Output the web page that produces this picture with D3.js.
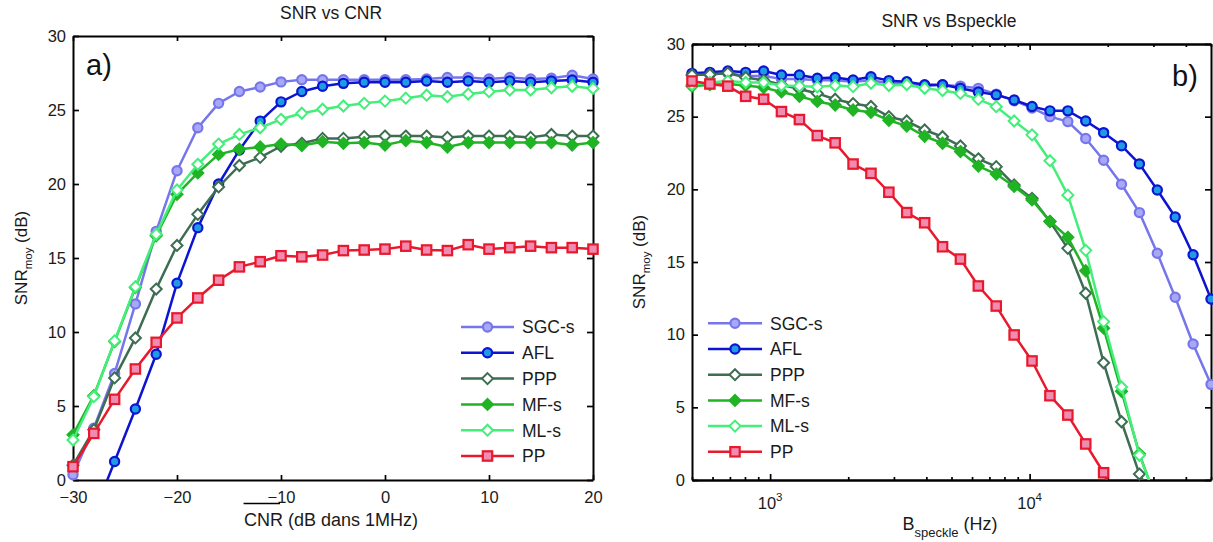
<!DOCTYPE html>
<html><head><meta charset="utf-8">
<script src="https://cdn.jsdelivr.net/npm/d3@7"></script>
<style>
html,body{margin:0;padding:0;background:#fff;}
svg{display:block;font-family:"Liberation Sans",Arial,Helvetica,sans-serif;}
</style></head><body>
<svg id="chart" width="1213" height="542"></svg>
<script>
// ---------- DATA ----------
const seriesNames = ["SGC-s", "AFL", "PPP", "MF-s", "ML-s", "PP"];

// Panel a) : SNR vs CNR
const cnr = [-30, -28, -26, -24, -22, -20, -18, -16, -14, -12, -10, -8, -6, -4, -2, 0, 2, 4, 6, 8, 10, 12, 14, 16, 18, 20];
const snrA_SGC = [0.35, 3.5, 7.2, 11.9, 16.8, 20.9, 23.8, 25.45, 26.25, 26.55, 26.9, 27.05, 27.05, 27.05, 27.05, 27.05, 27.05, 27.1, 27.2, 27.2, 27.1, 27.2, 27.1, 27.15, 27.35, 27.1];
const snrA_AFL = [-5.9, -2.3, 1.25, 4.8, 8.5, 13.3, 17.05, 20.0, 22.3, 24.25, 25.55, 26.25, 26.6, 26.8, 26.87, 26.87, 26.87, 26.96, 26.87, 26.96, 26.87, 26.96, 26.87, 26.96, 27.03, 26.87];
const snrA_PPP = [1.0, 3.4, 6.9, 9.6, 12.9, 15.85, 17.95, 19.8, 21.25, 21.8, 22.55, 22.75, 23.08, 23.08, 23.2, 23.24, 23.24, 23.24, 23.15, 23.24, 23.24, 23.24, 23.15, 23.35, 23.24, 23.24];
const snrA_MF  = [3.05, 5.7, 9.35, 13.0, 16.5, 19.3, 20.75, 22.0, 22.35, 22.5, 22.7, 22.6, 22.86, 22.75, 22.8, 22.63, 22.93, 22.8, 22.5, 22.8, 22.8, 22.8, 22.8, 22.8, 22.63, 22.8];
const snrA_ML  = [2.7, 5.63, 9.4, 13.06, 16.6, 19.6, 21.33, 22.7, 23.35, 23.8, 24.37, 24.78, 25.05, 25.27, 25.45, 25.6, 25.8, 26.0, 25.9, 26.08, 26.24, 26.35, 26.35, 26.5, 26.6, 26.46];
const snrA_PP  = [0.9, 3.15, 5.45, 7.5, 9.3, 10.95, 12.3, 13.5, 14.4, 14.75, 15.15, 15.08, 15.2, 15.5, 15.54, 15.6, 15.8, 15.54, 15.5, 15.9, 15.6, 15.7, 15.8, 15.7, 15.7, 15.6];

// Panel b) : SNR vs Bspeckle (Hz)
const bspeckle = [500, 586, 687, 805, 944, 1106, 1297, 1520, 1781, 2088, 2447, 2868, 3362, 3940, 4618, 5413, 6345, 7437, 8717, 10217, 11975, 14036, 16452, 19283, 22601, 26491, 31050, 36394, 42658, 50000];
const snrB_SGC = [27.9, 27.9, 28.0, 27.8, 27.8, 27.6, 27.6, 27.5, 27.5, 27.4, 27.5, 27.3, 27.3, 27.1, 27.2, 27.1, 26.95, 26.55, 26.1, 25.6, 25.0, 24.66, 23.5, 22.0, 20.35, 18.4, 15.6, 12.57, 9.36, 6.58];
const snrB_AFL = [27.98, 28.05, 28.14, 28.05, 28.14, 27.87, 27.87, 27.64, 27.7, 27.52, 27.75, 27.48, 27.4, 27.2, 27.2, 26.95, 26.7, 26.5, 26.15, 25.7, 25.4, 25.4, 24.7, 23.9, 23.0, 21.75, 19.95, 18.1, 15.5, 12.45];
const snrB_PPP = [27.87, 27.9, 28.0, 27.7, 27.5, 27.2, 26.9, 26.6, 26.2, 25.9, 25.7, 25.0, 24.7, 24.08, 23.62, 22.98, 22.1, 21.56, 20.3, 19.38, 17.78, 15.94, 12.85, 8.07, 4.01, 0.41, -1.8];
const snrB_MF  = [27.1, 27.2, 27.25, 27.15, 27.0, 26.7, 26.4, 26.05, 25.8, 25.46, 25.3, 24.75, 24.35, 23.65, 23.17, 22.6, 21.6, 21.05, 20.2, 19.27, 17.8, 16.7, 14.4, 10.45, 6.1, 1.8, -1.6];
const snrB_ML  = [27.2, 27.35, 27.45, 27.35, 27.35, 27.14, 27.1, 27.05, 27.14, 27.07, 27.3, 27.14, 27.2, 26.95, 26.8, 26.6, 26.19, 25.69, 24.7, 23.75, 21.97, 19.6, 15.8, 10.9, 6.4, 1.7, -1.5];
const snrB_PP  = [27.45, 27.25, 27.1, 26.4, 26.2, 25.35, 24.8, 23.7, 23.2, 21.74, 21.1, 19.8, 18.4, 17.7, 16.05, 15.2, 13.35, 11.97, 9.98, 8.19, 5.8, 4.47, 2.48, 0.5, -2.5];

const yTicks = [0, 5, 10, 15, 20, 25, 30];
const xTicksA = [-30, -20, -10, 0, 10, 20];
const xTicksB = [1000, 10000];

// ---------- STYLE ----------
const styles = {
  "SGC-s": {stroke: "#7676ec", fill: "#a8a8f6", shape: "circle"},
  "AFL":   {stroke: "#0c14d2", fill: "#1f9ae4", shape: "circle"},
  "PPP":   {stroke: "#3d6d52", fill: "#ffffff", shape: "diamond"},
  "MF-s":  {stroke: "#20b424", fill: "#20b424", shape: "diamond"},
  "ML-s":  {stroke: "#44ee7a", fill: "#ffffff", shape: "diamond"},
  "PP":    {stroke: "#e8192c", fill: "#f08cb2", shape: "square"}
};
const TXT = "#1a1a1a";

const svg = d3.select("#chart");

function marker(g, shape, cx, cy, st) {
  if (shape === "circle") {
    g.append("circle").attr("cx", cx).attr("cy", cy).attr("r", 4.6)
      .attr("fill", st.fill).attr("stroke", st.stroke).attr("stroke-width", 2.2);
  } else if (shape === "square") {
    g.append("rect").attr("x", cx - 4.7).attr("y", cy - 4.7).attr("width", 9.4).attr("height", 9.4)
      .attr("fill", st.fill).attr("stroke", st.stroke).attr("stroke-width", 2.2);
  } else {
    const r = 5.5;
    g.append("path").attr("d", `M${cx},${cy - r}L${cx + r},${cy}L${cx},${cy + r}L${cx - r},${cy}Z`)
      .attr("fill", st.fill).attr("stroke", st.stroke).attr("stroke-width", 2);
  }
}

function drawPanel(cfg) {
  const {x, y, xs, series, id} = cfg;
  const [x0, x1] = x.range();
  const [yb, yt] = y.range();
  const g = svg.append("g");

  svg.append("clipPath").attr("id", id).append("rect")
    .attr("x", x0).attr("y", yt).attr("width", x1 - x0).attr("height", yb - yt);

  const axStyle = sel => {
    sel.select(".domain").attr("stroke", "#000").attr("stroke-width", 2);
    sel.selectAll(".tick line").attr("stroke", "#000").attr("stroke-width", 1.7);
    sel.selectAll("text").attr("fill", TXT).attr("font-size", 16.5)
      .attr("font-family", '"Liberation Sans",Arial,sans-serif');
  };
  g.append("g").attr("transform", `translate(${x0},0)`)
    .call(d3.axisLeft(y).tickValues(yTicks).tickSizeInner(-6).tickSizeOuter(0).tickPadding(7)).call(axStyle);
  g.append("g").attr("transform", `translate(${x1},0)`)
    .call(d3.axisRight(y).tickValues(yTicks).tickSizeInner(-6).tickSizeOuter(0).tickFormat("")).call(axStyle);
  cfg.xAxes(g, axStyle, yb, yt);

  const data = g.append("g");
  series.forEach(s => {
    const st = styles[s.name];
    const line = d3.line()
      .defined(d => d.v != null)
      .x(d => x(d.x)).y(d => y(d.v));
    const pts = s.values.map((v, i) => ({x: xs[i], v}));
    data.append("path").datum(pts).attr("d", line)
      .attr("clip-path", `url(#${id})`)
      .attr("fill", "none").attr("stroke", st.stroke).attr("stroke-width", 2.5)
      .attr("stroke-linejoin", "round");
    const mg = data.append("g");
    const [d0, d1] = y.domain();
    pts.forEach(p => {
      if (p.v >= d0 && p.v <= d1) marker(mg, st.shape, x(p.x), y(p.v), st);
    });
  });
  return g;
}

function legend(lx0, lx1, tx, y0, dy) {
  const g = svg.append("g");
  seriesNames.forEach((n, i) => {
    const st = styles[n];
    const yy = y0 + i * dy;
    g.append("line").attr("x1", lx0).attr("x2", lx1).attr("y1", yy).attr("y2", yy)
      .attr("stroke", st.stroke).attr("stroke-width", 2.5);
    marker(g, st.shape, (lx0 + lx1) / 2, yy, st);
    g.append("text").attr("x", tx).attr("y", yy).attr("dy", "0.36em")
      .attr("font-size", 17.5).attr("fill", TXT).text(n);
  });
}

function yLabel(cx, cy) {
  const t = svg.append("text").attr("transform", `translate(${cx},${cy}) rotate(-90)`)
    .attr("text-anchor", "middle").attr("font-size", 17).attr("fill", TXT);
  t.append("tspan").text("SNR");
  t.append("tspan").attr("font-size", 11.5).attr("dy", 5).text("moy");
  t.append("tspan").attr("dy", -5).text(" (dB)");
}

// ---------- PANEL A ----------
const xA = d3.scaleLinear().domain([-30, 20]).range([73, 593]);
const yA = d3.scaleLinear().domain([0, 30]).range([480, 36]);
drawPanel({
  id: "clipA", x: xA, y: yA, xs: cnr,
  series: [
    {name: "SGC-s", values: snrA_SGC}, {name: "AFL", values: snrA_AFL},
    {name: "PPP", values: snrA_PPP}, {name: "MF-s", values: snrA_MF},
    {name: "ML-s", values: snrA_ML}, {name: "PP", values: snrA_PP}],
  xAxes: (g, axStyle, yb, yt) => {
    g.append("g").attr("transform", `translate(0,${yb})`)
      .call(d3.axisBottom(xA).tickValues(xTicksA).tickSizeInner(-5).tickSizeOuter(0).tickPadding(11.5)).call(axStyle);
    g.append("g").attr("transform", `translate(0,${yt})`)
      .call(d3.axisTop(xA).tickValues(xTicksA).tickSizeInner(-5).tickSizeOuter(0).tickFormat("")).call(axStyle);
  }
});
// small stray bar under the "-10" label (present in the original figure)
svg.append("line").attr("x1", xA(-13.6)).attr("x2", xA(-10.1)).attr("y1", 503.5).attr("y2", 503.5)
  .attr("stroke", "#000").attr("stroke-width", 1.4);

svg.append("text").attr("x", 331).attr("y", 19).attr("text-anchor", "middle")
  .attr("font-size", 17.5).attr("fill", TXT).text("SNR vs CNR");
svg.append("text").attr("x", 331).attr("y", 526).attr("text-anchor", "middle")
  .attr("font-size", 18).attr("fill", TXT).text("CNR (dB dans 1MHz)");
svg.append("text").attr("x", 86).attr("y", 75).attr("font-size", 29).attr("fill", "#111").text("a)");
yLabel(27, 258);
legend(461, 514, 522, 327, 25.8);

// ---------- PANEL B ----------
const xB = d3.scaleLog().domain([500, 50000]).range([692, 1211]);
const yB = d3.scaleLinear().domain([0, 30]).range([480, 44]);
drawPanel({
  id: "clipB", x: xB, y: yB, xs: bspeckle,
  series: [
    {name: "SGC-s", values: snrB_SGC}, {name: "AFL", values: snrB_AFL},
    {name: "PPP", values: snrB_PPP}, {name: "MF-s", values: snrB_MF},
    {name: "ML-s", values: snrB_ML}, {name: "PP", values: snrB_PP}],
  xAxes: (g, axStyle, yb, yt) => {
    const minor = xB.ticks().filter(v => !xTicksB.includes(v));
    g.append("g").attr("transform", `translate(0,${yb})`)
      .call(d3.axisBottom(xB).tickValues(minor).tickSizeInner(-3).tickSizeOuter(0).tickFormat("")).call(axStyle);
    g.append("g").attr("transform", `translate(0,${yb})`)
      .call(d3.axisBottom(xB).tickValues(xTicksB).tickSizeInner(-6).tickSizeOuter(0).tickFormat("")).call(axStyle);
    g.append("g").attr("transform", `translate(0,${yt})`)
      .call(d3.axisTop(xB).tickValues(minor).tickSizeInner(-3).tickSizeOuter(0).tickFormat("")).call(axStyle);
    g.append("g").attr("transform", `translate(0,${yt})`)
      .call(d3.axisTop(xB).tickValues(xTicksB).tickSizeInner(-6).tickSizeOuter(0).tickFormat("")).call(axStyle);
    const lab = g.append("g");
    xTicksB.forEach(v => {
      const t = lab.append("text").attr("x", xB(v)).attr("y", 509).attr("text-anchor", "middle")
        .attr("font-size", 16.5).attr("fill", TXT);
      t.append("tspan").text("10");
      t.append("tspan").attr("font-size", 11.5).attr("dy", -8).text(String(Math.round(Math.log10(v))));
    });
  }
});
svg.append("text").attr("x", 949).attr("y", 27).attr("text-anchor", "middle")
  .attr("font-size", 17.5).attr("fill", TXT).text("SNR vs Bspeckle");
{
  const t = svg.append("text").attr("x", 950).attr("y", 530).attr("text-anchor", "middle")
    .attr("font-size", 18).attr("fill", TXT);
  t.append("tspan").text("B");
  t.append("tspan").attr("font-size", 13).attr("dy", 7).text("speckle");
  t.append("tspan").attr("dy", -7).text(" (Hz)");
}
svg.append("text").attr("x", 1172).attr("y", 86).attr("font-size", 29).attr("fill", "#111").text("b)");
yLabel(645, 262);
legend(708, 762, 770, 323.3, 25.7);
</script>
</body></html>
